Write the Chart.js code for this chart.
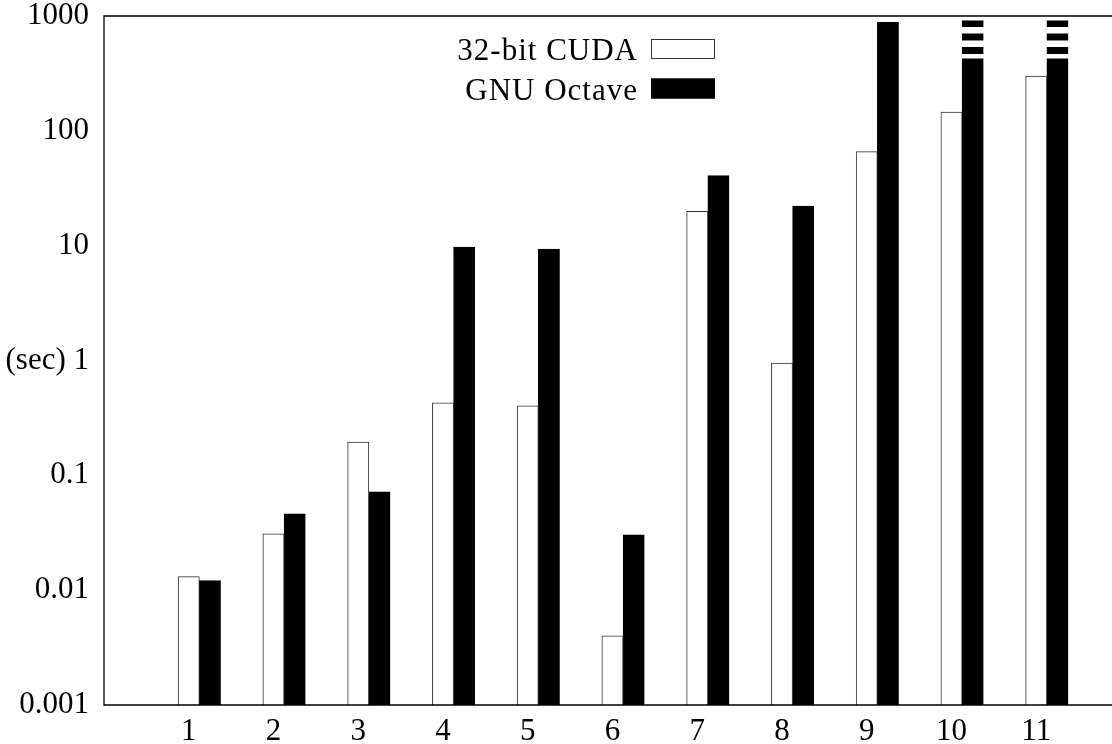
<!DOCTYPE html>
<html><head><meta charset="utf-8">
<script src="https://cdn.jsdelivr.net/npm/chart.js@4.4.0/dist/chart.umd.min.js"></script>
<style>html,body{margin:0;padding:0;background:#fff;overflow:hidden;width:1112px;height:744px}canvas{display:block}</style>
</head><body>
<canvas id="c" width="1121" height="744"></canvas>
<script>
const categories = [1, 2, 3, 4, 5, 6, 7, 8, 9, 10, 11];
const seriesNames = ['32-bit CUDA', 'GNU Octave'];
const cudaSeconds = [0.0131, 0.031, 0.195, 0.427, 0.402, 0.0040, 19.9, 0.95, 66, 146, 300];
// categories 10 and 11 run past the top of the axis (drawn as broken bars)
const octaveSeconds = [0.0121, 0.0461, 0.0718, 9.7, 9.33, 0.0303, 40.7, 22.1, 881, 1000, 1000];
const yTickValues = [0.001, 0.01, 0.1, 1, 10, 100, 1000];
const yTickLabels = ['0.001', '0.01', '0.1', '(sec) 1', '10', '100', '1000'];

const FONT = '"Liberation Serif", "DejaVu Serif", serif';
const Y_MIN = yTickValues[0], Y_MAX = yTickValues[yTickValues.length - 1];

const framePlugin = {
  id: 'frame',
  afterDatasetsDraw(chart) {
    const { ctx, chartArea: a } = chart;
    const meta = chart.getDatasetMeta(1);
    const gaps = [[0, 4.5], [11, 17.5], [24.5, 31], [38, 42.5]];
    ctx.save();
    ctx.fillStyle = '#fff';
    meta.data.forEach((el, i) => {
      if (octaveSeconds[i] >= Y_MAX) {
        const w = el.width;
        gaps.forEach(g => ctx.fillRect(el.x - w / 2 - 1, a.top + g[0], w + 2, g[1] - g[0]));
      }
    });
    ctx.strokeStyle = '#000';
    ctx.lineWidth = 1.3;
    ctx.beginPath();
    ctx.moveTo(a.right + 2, a.top); ctx.lineTo(a.left, a.top); ctx.lineTo(a.left, a.bottom); ctx.lineTo(a.right + 2, a.bottom);
    ctx.stroke();
    ctx.restore();
  },
  afterDraw(chart) {
    const ctx = chart.ctx;
    ctx.save();
    ctx.font = '31px ' + FONT;
    ctx.textAlign = 'right';
    ctx.textBaseline = 'alphabetic';
    try { ctx.letterSpacing = '1px'; } catch (e) {}
    chart.data.datasets.forEach((ds, i) => {
      const cy = 49 + i * 39.5;
      ctx.fillStyle = '#000';
      ctx.fillText(ds.label, 638, cy + 11);
      ctx.fillStyle = ds.backgroundColor;
      ctx.fillRect(651, cy - 10, 64, 20);
      ctx.strokeStyle = ds.borderColor;
      ctx.lineWidth = 1;
      ctx.strokeRect(651.5, cy - 9.5, 63, 19);
    });
    ctx.restore();
  }
};

new Chart(document.getElementById('c'), {
  type: 'bar',
  data: {
    datasets: [
      { label: seriesNames[0], data: categories.map((c, i) => ({ x: c, y: cudaSeconds[i] })),
        backgroundColor: '#ffffff', borderColor: '#333333', borderWidth: 1, barThickness: 21.2 },
      { label: seriesNames[1], data: categories.map((c, i) => ({ x: c, y: octaveSeconds[i] })),
        backgroundColor: '#000000', borderColor: '#000000', borderWidth: 1, barThickness: 21.2 }
    ]
  },
  options: {
    responsive: false,
    animation: false,
    devicePixelRatio: 1,
    layout: { padding: { top: 16, left: 0, right: 0, bottom: 0 } },
    plugins: { legend: { display: false }, tooltip: { enabled: false } },
    scales: {
      x: {
        type: 'linear', min: -0.125, max: 11.875, offset: false,
        grid: { display: false, drawTicks: false },
        border: { display: false },
        afterBuildTicks: s => { s.ticks = categories.map(v => ({ value: v })); },
        afterFit: s => { s.height = 39; s.paddingLeft = 0; s.paddingRight = 0; },
        ticks: { color: '#000', font: { family: FONT, size: 31 }, padding: 8, labelOffset: -10.6,
          maxRotation: 0, autoSkip: false, callback: v => String(v) }
      },
      y: {
        type: 'logarithmic', min: Y_MIN, max: Y_MAX,
        grid: { display: false, drawTicks: false },
        border: { display: false },
        afterBuildTicks: s => { s.ticks = yTickValues.map(v => ({ value: v })); },
        afterFit: s => { s.width = 104; s.paddingTop = 0; s.paddingBottom = 0; },
        ticks: { color: '#000', font: { family: FONT, size: 31 }, padding: 15, autoSkip: false,
          callback: v => { const k = yTickValues.indexOf(v); return k >= 0 ? yTickLabels[k] : ''; } }
      }
    }
  },
  plugins: [framePlugin]
});
</script>
</body></html>
